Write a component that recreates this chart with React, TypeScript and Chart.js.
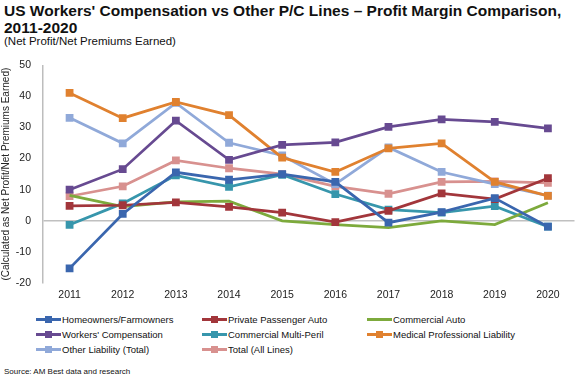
import React, { useEffect, useRef } from "react";
import { Chart, registerables } from "chart.js";

Chart.register(...registerables);

const years = ["2011", "2012", "2013", "2014", "2015", "2016", "2017", "2018", "2019", "2020"];
const homeowners = [-15.3, 2.2, 15.6, 13.2, 15, 12.5, -0.6, 2.8, 7.3, -1.9];
const privateAuto = [4.8, 5.0, 5.9, 4.5, 2.6, -0.4, 3.2, 8.8, 7.0, 13.7];
const commercialAuto = [8.2, 4.6, 6.1, 6.3, 0, -1.2, -2.2, 0, -1.2, 5.8];
const workersComp = [10, 16.6, 32.2, 19.6, 24.4, 25.2, 30.2, 32.6, 31.8, 29.7];
const multiPeril = [-1.3, 5.6, 14.6, 10.9, 14.8, 8.6, 3.6, 2.6, 4.7, -1.9];
const medProf = [41.1, 33.0, 38.2, 34.0, 20.3, 15.7, 23.3, 24.9, 12.5, 8.0];
const otherLiab = [33.1, 24.9, 37.9, 25.1, 21.0, 11.8, 23.6, 15.7, 11.8, 8.1];
const totalAll = [7.9, 11.1, 19.4, 16.9, 15.0, 11.1, 8.7, 12.5, 12.7, 12.2];

const seriesNames = [
  "Homeowners/Farmowners",
  "Private Passenger Auto",
  "Commercial Auto",
  "Workers' Compensation",
  "Commercial Multi-Peril",
  "Medical Professional Liability",
  "Other Liability (Total)",
  "Total (All Lines)",
];
const seriesData = [homeowners, privateAuto, commercialAuto, workersComp, multiPeril, medProf, otherLiab, totalAll];
const seriesColors = ["#3A66AE", "#A2363B", "#7DAA3C", "#674A91", "#3796AC", "#E0812F", "#90A9D9", "#D8918F"];
const seriesMarkers = [true, true, false, true, true, true, true, true];

const FONT = "'Liberation Sans', Arial, Helvetica, sans-serif";

export default function App() {
  const ref = useRef<HTMLCanvasElement | null>(null);

  useEffect(() => {
    if (!ref.current) return;
    const chart = new Chart(ref.current, {
      type: "line",
      data: {
        labels: years,
        datasets: seriesNames.map((n, i) => ({
          label: n,
          data: seriesData[i],
          borderColor: seriesColors[i],
          backgroundColor: seriesColors[i],
          borderWidth: 2.75,
          pointStyle: "rect",
          pointRadius: seriesMarkers[i] ? 5.5 : 0,
          pointHoverRadius: seriesMarkers[i] ? 5.5 : 0,
          pointBorderWidth: 0,
          tension: 0,
        })),
      },
      options: {
        animation: false,
        responsive: false,
        maintainAspectRatio: false,
        layout: { padding: { top: 4, right: 0, left: 0, bottom: 0 } },
        plugins: { legend: { display: false }, title: { display: false }, tooltip: { enabled: false } },
        scales: {
          x: {
            offset: true,
            grid: { display: false, drawTicks: false },
            border: { display: false },
            ticks: { color: "#222", font: { family: FONT, size: 10.5 }, padding: 6, maxRotation: 0 },
            afterFit: (s: any) => { s.height = 22; },
          },
          y: {
            min: -20,
            max: 50,
            ticks: { stepSize: 10, color: "#222", font: { family: FONT, size: 10.5 }, padding: 12 },
            grid: {
              drawTicks: false,
              color: (ctx: any) => (ctx.tick && ctx.tick.value === 0 ? "#C0C0C0" : "rgba(0,0,0,0)"),
              lineWidth: 1.5,
            },
            border: { display: true, color: "#BDBDBD", width: 1.5 },
            title: {
              display: true,
              text: "(Calculated as Net Profit/Net Premiums Earned)",
              color: "#222",
              font: { family: FONT, size: 10 },
              padding: { top: 0, bottom: 0 },
            },
            afterFit: (s: any) => { s.width = 43; },
          },
        },
      },
    });
    return () => chart.destroy();
  }, []);

  const legendCols = [36, 202, 367];

  return (
    <div style={{ position: "fixed", left: 0, top: 0, width: 580, height: 383, background: "#fff", fontFamily: FONT, color: "#111", overflow: "hidden" }}>
      <div style={{ position: "absolute", left: 4, top: 2, fontSize: 15.5, fontWeight: "bold", lineHeight: "17px", whiteSpace: "nowrap" }}>
        US Workers' Compensation vs Other P/C Lines – Profit Margin Comparison,
        <br />
        2011-2020
      </div>
      <div style={{ position: "absolute", left: 4, top: 35, fontSize: 11.5, whiteSpace: "nowrap" }}>(Net Profit/Net Premiums Earned)</div>
      <canvas ref={ref} width={580} height={258} style={{ position: "absolute", left: 0, top: 47, width: 580, height: 258 }} />
      {seriesNames.map((n, i) => {
        const col = i % 3;
        const row = Math.floor(i / 3);
        return (
          <div key={n} style={{ position: "absolute", left: legendCols[col], top: 312 + row * 15, height: 14, display: "flex", alignItems: "center", fontSize: 9.5, whiteSpace: "nowrap" }}>
            <div style={{ position: "relative", width: 25, height: 14 }}>
              <div style={{ position: "absolute", left: 0, top: 6, width: 25, height: 3, background: seriesColors[i] }} />
              {seriesMarkers[i] && (
                <div style={{ position: "absolute", left: 9, top: 4, width: 7, height: 7, background: seriesColors[i] }} />
              )}
            </div>
            <span style={{ marginLeft: 1 }}>{n}</span>
          </div>
        );
      })}
      <div style={{ position: "absolute", left: 4, top: 367, fontSize: 8, whiteSpace: "nowrap" }}>Source: AM Best data and research</div>
    </div>
  );
}
